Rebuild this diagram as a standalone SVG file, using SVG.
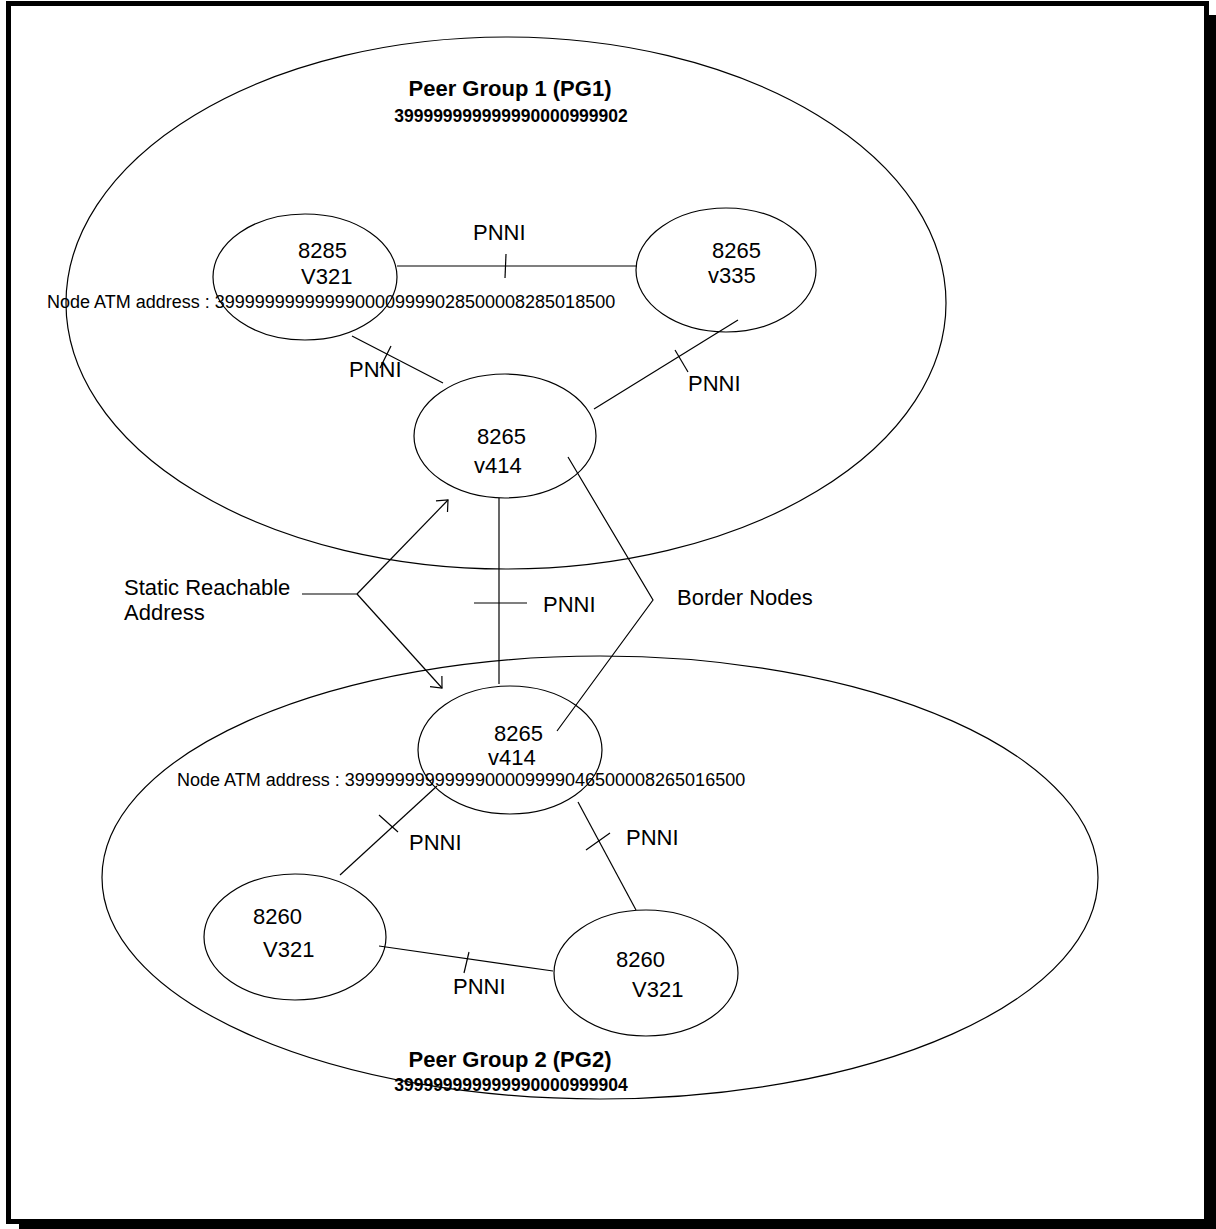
<svg xmlns="http://www.w3.org/2000/svg" width="1216" height="1229" viewBox="0 0 1216 1229">
<style>
.e{fill:none;stroke:#000;stroke-width:1.2}
.l{fill:none;stroke:#000;stroke-width:1.2}
.t{font-family:"Liberation Sans",Arial,sans-serif;font-size:22px;fill:#000}
.a{font-family:"Liberation Sans",Arial,sans-serif;font-size:18px;fill:#000}
.h{font-family:"Liberation Sans",Arial,sans-serif;font-size:22px;font-weight:bold;fill:#000}
.d{font-family:"Liberation Sans",Arial,sans-serif;font-size:17.5px;font-weight:bold;fill:#000}
</style>
<defs>
<marker id="arr" viewBox="-12 -12 14 24" markerWidth="14" markerHeight="24" refX="0" refY="0" orient="auto" markerUnits="userSpaceOnUse">
<path d="M-9,-8 L0,0 L-9,8" fill="none" stroke="#000" stroke-width="1.2"/>
</marker>
</defs>
<rect width="1216" height="1229" fill="#fff"/>
<g id="frame">
<rect x="1209" y="15" width="7" height="1214" fill="#000"/>
<rect x="19" y="1224" width="1197" height="5" fill="#000"/>
<rect x="8.5" y="3.5" width="1198" height="1218" fill="none" stroke="#000" stroke-width="5"/>
</g>
<g id="pg1">
<ellipse class="e" cx="506" cy="303" rx="440" ry="266"/>
<text class="h" x="510" y="96" text-anchor="middle">Peer Group 1 (PG1)</text>
<text class="d" x="511" y="122" text-anchor="middle">399999999999990000999902</text>
</g>
<g id="pg2">
<ellipse class="e" cx="600" cy="877.5" rx="498" ry="221.5"/>
<text class="h" x="510" y="1067" text-anchor="middle">Peer Group 2 (PG2)</text>
<text class="d" x="511" y="1091" text-anchor="middle">399999999999990000999904</text>
</g>
<g id="connectors">
<line class="l" x1="397" y1="266" x2="637" y2="266"/>
<line class="l" x1="506" y1="254" x2="505" y2="278"/>
<line class="l" x1="352" y1="336" x2="443" y2="383"/>
<line class="l" x1="391" y1="346" x2="380" y2="368"/>
<line class="l" x1="738" y1="320" x2="594" y2="409"/>
<line class="l" x1="675" y1="350" x2="688" y2="372"/>
<line class="l" x1="499" y1="498" x2="499" y2="684"/>
<line class="l" x1="474" y1="603" x2="527" y2="603"/>
<polyline class="l" points="568,457 653,600 557,731"/>
<line class="l" x1="302" y1="594" x2="357" y2="594"/>
<line class="l" x1="357" y1="594" x2="448" y2="500" marker-end="url(#arr)"/>
<line class="l" x1="357" y1="594" x2="442" y2="688" marker-end="url(#arr)"/>
<line class="l" x1="437" y1="786" x2="340" y2="875"/>
<line class="l" x1="379" y1="815" x2="398" y2="832"/>
<line class="l" x1="578" y1="802" x2="636" y2="910"/>
<line class="l" x1="586" y1="850" x2="610" y2="833"/>
<line class="l" x1="379" y1="946" x2="553" y2="971"/>
<line class="l" x1="469" y1="952" x2="464" y2="973"/>
</g>
<g id="labels">
<text class="t" x="473" y="240">PNNI</text>
<text class="t" x="349" y="377">PNNI</text>
<text class="t" x="688" y="391">PNNI</text>
<text class="t" x="543" y="612">PNNI</text>
<text class="t" x="409" y="850">PNNI</text>
<text class="t" x="626" y="845">PNNI</text>
<text class="t" x="453" y="994">PNNI</text>
<text class="t" x="124" y="595">Static Reachable</text>
<text class="t" x="124" y="620">Address</text>
<text class="t" x="677" y="605">Border Nodes</text>
</g>
<g id="n8285">
<ellipse class="e" cx="305" cy="277" rx="92" ry="63"/>
<text class="t" x="298" y="258">8285</text>
<text class="t" x="301" y="284">V321</text>
<text class="a" x="47" y="308">Node ATM address : 3999999999999900009999028500008285018500</text>
</g>
<g id="n8265b">
<ellipse class="e" cx="726" cy="270" rx="90" ry="62"/>
<text class="t" x="712" y="258">8265</text>
<text class="t" x="708" y="283">v335</text>
</g>
<g id="n8265c">
<ellipse class="e" cx="505" cy="436" rx="91" ry="62"/>
<text class="t" x="477" y="444">8265</text>
<text class="t" x="474" y="473">v414</text>
</g>
<g id="n8265d">
<ellipse class="e" cx="510" cy="750" rx="92" ry="64"/>
<text class="t" x="494" y="741">8265</text>
<text class="t" x="488" y="765">v414</text>
<text class="a" x="177" y="786">Node ATM address : 3999999999999900009999046500008265016500</text>
</g>
<g id="n8260a">
<ellipse class="e" cx="295" cy="937" rx="91" ry="63"/>
<text class="t" x="253" y="924">8260</text>
<text class="t" x="263" y="957">V321</text>
</g>
<g id="n8260b">
<ellipse class="e" cx="646" cy="973" rx="92" ry="63"/>
<text class="t" x="616" y="967">8260</text>
<text class="t" x="632" y="997">V321</text>
</g>
</svg>
